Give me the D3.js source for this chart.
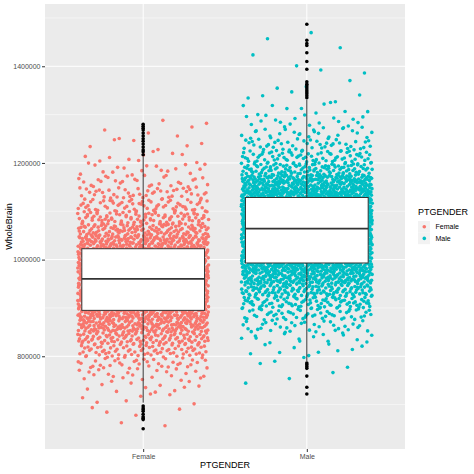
<!DOCTYPE html>
<html>
<head>
<meta charset="utf-8">
<script src="https://cdnjs.cloudflare.com/ajax/libs/d3/7.8.5/d3.min.js"></script>
<style>
  body { margin: 0; background: #fff; }
  text { font-family: "Liberation Sans", Arial, sans-serif; }
</style>
</head>
<body>
<div class="chart"></div>
<script>

var groups = ["Female", "Male"];
var groupColors = ["#F8766D", "#00BFC4"];

// jitter cloud: number of points in each 25000 wide band, starting at 650000
var binStart = 650000,
    binWidth = 25000;
var femaleCounts = [2, 4, 7, 12, 22, 40, 72, 112, 155, 195, 230, 250, 255, 245, 230, 180, 125, 90, 62, 45, 28, 18, 10, 6, 5, 2];
var maleCounts = [0, 0, 0, 1, 2, 4, 9, 17, 34, 58, 92, 138, 195, 228, 265, 292, 305, 305, 292, 260, 195, 115, 70, 46, 28, 17, 10, 5, 3, 2, 2, 1, 2];

// boxplot stats (Female, Male)
var boxLower  = [704000, 790000];
var boxQ1     = [895000, 993000];
var boxMedian = [960000, 1064000];
var boxQ3     = [1022500, 1128500];
var boxUpper  = [1213000, 1331000];

var femaleOutliers = [1280000, 1276000, 1272000, 1268000, 1262000, 1256000, 1250000, 1245000, 1239000, 1233000, 1227000, 1223000, 1217000,
                      697000, 693000, 690000, 686000, 680000, 675000, 672000, 669000, 650000];
var maleOutliers = [1487000, 1454000, 1447000, 1443000, 1428000, 1410000, 1394000, 1368000, 1363000, 1359000, 1355000, 1351000, 1347000, 1343000, 1339000, 1335000,
                    786000, 783000, 779000, 775000, 759000, 736000, 722000];

var yTicks = [800000, 1000000, 1200000, 1400000];
var yMinorTicks = [700000, 900000, 1100000, 1300000, 1500000];


var width = 474, height = 474;
var panel = {left: 45, right: 405, top: 4, bottom: 449};
var axisGrey = "#333333", labelGrey = "#4D4D4D";
var dotR = 1.8;

// halton sequence, only used to spread the points sideways like geom_jitter
function halton(i, base) {
  var f = 1, r = 0;
  while (i > 0) {
    f = f / base;
    r = r + f * (i % base);
    i = Math.floor(i / base);
  }
  return r;
}

var points = [];
var counter = 1;
[femaleCounts, maleCounts].forEach(function(counts, gi) {
  for (var i = 0 ; i < counts.length ; i++) {
    for (var k = 0 ; k < counts[i] ; k++) {
      points.push({
        group: groups[gi],
        value: binStart + i * binWidth + halton(counter, 2) * binWidth,
        offset: (halton(counter, 3) * 2 - 1) * 0.4
      });
      counter++;
    }
  }
});

var outliers = femaleOutliers.map(function(v) { return {group: "Female", value: v}; })
  .concat(maleOutliers.map(function(v) { return {group: "Male", value: v}; }));

var allValues = points.map(function(d) { return d.value; })
  .concat(femaleOutliers, maleOutliers);
var ext = d3.extent(allValues);
var pad = (ext[1] - ext[0]) * 0.05;

var y = d3.scaleLinear()
  .domain([ext[0] - pad, ext[1] + pad])
  .range([panel.bottom, panel.top]);

var x = d3.scalePoint()
  .domain(groups)
  .range([panel.left, panel.right])
  .padding(0.6);

var step = x.step();
var color = d3.scaleOrdinal().domain(groups).range(groupColors);

var svg = d3.select(".chart")
  .append("svg")
    .attr("width", width)
    .attr("height", height);

svg.append("rect")
  .attr("x", panel.left)
  .attr("y", panel.top)
  .attr("width", panel.right - panel.left)
  .attr("height", panel.bottom - panel.top)
  .attr("fill", "#EBEBEB");

svg.selectAll(".minor-grid")
  .data(yMinorTicks)
  .enter().append("line")
    .attr("x1", panel.left)
    .attr("x2", panel.right)
    .attr("y1", function(d) { return y(d); })
    .attr("y2", function(d) { return y(d); })
    .style("stroke", "#fff")
    .style("stroke-width", 0.5);

svg.selectAll(".major-grid")
  .data(yTicks)
  .enter().append("line")
    .attr("x1", panel.left)
    .attr("x2", panel.right)
    .attr("y1", function(d) { return y(d); })
    .attr("y2", function(d) { return y(d); })
    .style("stroke", "#fff")
    .style("stroke-width", 1);

svg.selectAll(".x-grid")
  .data(groups)
  .enter().append("line")
    .attr("x1", function(d) { return x(d); })
    .attr("x2", function(d) { return x(d); })
    .attr("y1", panel.top)
    .attr("y2", panel.bottom)
    .style("stroke", "#fff")
    .style("stroke-width", 1);

// jitter
svg.selectAll(".jitter")
  .data(points)
  .enter().append("circle")
    .attr("cx", function(d) { return x(d.group) + d.offset * step; })
    .attr("cy", function(d) { return y(d.value); })
    .attr("r", dotR)
    .style("fill", function(d) { return color(d.group); });

// boxplot
var boxes = groups.map(function(g, i) {
  return {group: g, lower: boxLower[i], q1: boxQ1[i], median: boxMedian[i], q3: boxQ3[i], upper: boxUpper[i]};
});
var boxW = step * 0.75;

svg.selectAll(".whisker-low")
  .data(boxes)
  .enter().append("line")
    .attr("x1", function(d) { return x(d.group); })
    .attr("x2", function(d) { return x(d.group); })
    .attr("y1", function(d) { return y(d.lower); })
    .attr("y2", function(d) { return y(d.q1); })
    .style("stroke", axisGrey)
    .style("stroke-width", 1);

svg.selectAll(".whisker-high")
  .data(boxes)
  .enter().append("line")
    .attr("x1", function(d) { return x(d.group); })
    .attr("x2", function(d) { return x(d.group); })
    .attr("y1", function(d) { return y(d.q3); })
    .attr("y2", function(d) { return y(d.upper); })
    .style("stroke", axisGrey)
    .style("stroke-width", 1);

svg.selectAll(".box")
  .data(boxes)
  .enter().append("rect")
    .attr("x", function(d) { return x(d.group) - boxW / 2; })
    .attr("y", function(d) { return y(d.q3); })
    .attr("width", boxW)
    .attr("height", function(d) { return y(d.q1) - y(d.q3); })
    .style("fill", "#fff")
    .style("stroke", axisGrey)
    .style("stroke-width", 1);

svg.selectAll(".median")
  .data(boxes)
  .enter().append("line")
    .attr("x1", function(d) { return x(d.group) - boxW / 2; })
    .attr("x2", function(d) { return x(d.group) + boxW / 2; })
    .attr("y1", function(d) { return y(d.median); })
    .attr("y2", function(d) { return y(d.median); })
    .style("stroke", axisGrey)
    .style("stroke-width", 1.8);

svg.selectAll(".outlier")
  .data(outliers)
  .enter().append("circle")
    .attr("cx", function(d) { return x(d.group); })
    .attr("cy", function(d) { return y(d.value); })
    .attr("r", dotR)
    .style("fill", "#000");

// axes
var yAxis = svg.append("g")
  .attr("transform", "translate(" + panel.left + ",0)")
  .call(d3.axisLeft(y).tickValues(yTicks).tickSize(3).tickPadding(1.5).tickFormat(d3.format("d")));

var xAxis = svg.append("g")
  .attr("transform", "translate(0," + panel.bottom + ")")
  .call(d3.axisBottom(x).tickSize(3).tickPadding(2));

[yAxis, xAxis].forEach(function(a) {
  a.select(".domain").remove();
  a.selectAll(".tick line").style("stroke", axisGrey);
  a.selectAll(".tick text")
    .style("fill", labelGrey)
    .style("font-size", "7px")
    .style("font-family", "'Liberation Sans', Arial, sans-serif");
});

svg.append("text")
  .attr("x", (panel.left + panel.right) / 2)
  .attr("y", 468)
  .style("text-anchor", "middle")
  .style("font-size", "9px")
  .style("fill", "#000")
  .text("PTGENDER");

svg.append("text")
  .attr("transform", "translate(11.5," + ((panel.top + panel.bottom) / 2) + ") rotate(-90)")
  .style("text-anchor", "middle")
  .style("font-size", "9px")
  .style("fill", "#000")
  .text("WholeBrain");

// legend
var legend = svg.append("g")
  .attr("transform", "translate(418,0)");

legend.append("text")
  .attr("x", 0)
  .attr("y", 214.5)
  .style("font-size", "9px")
  .style("fill", "#000")
  .text("PTGENDER");

var keys = legend.selectAll(".key")
  .data(groups)
  .enter().append("g")
    .attr("transform", function(d, i) { return "translate(0," + (221 + i * 11.6) + ")"; });

keys.append("rect")
  .attr("width", 12)
  .attr("height", 11.6)
  .style("fill", "#F2F2F2");

keys.append("circle")
  .attr("cx", 6.3)
  .attr("cy", 5.8)
  .attr("r", dotR)
  .style("fill", function(d) { return color(d); });

keys.append("text")
  .attr("x", 17.5)
  .attr("y", 8.3)
  .style("font-size", "7px")
  .style("fill", "#000")
  .text(function(d) { return d; });

</script>
</body>
</html>
